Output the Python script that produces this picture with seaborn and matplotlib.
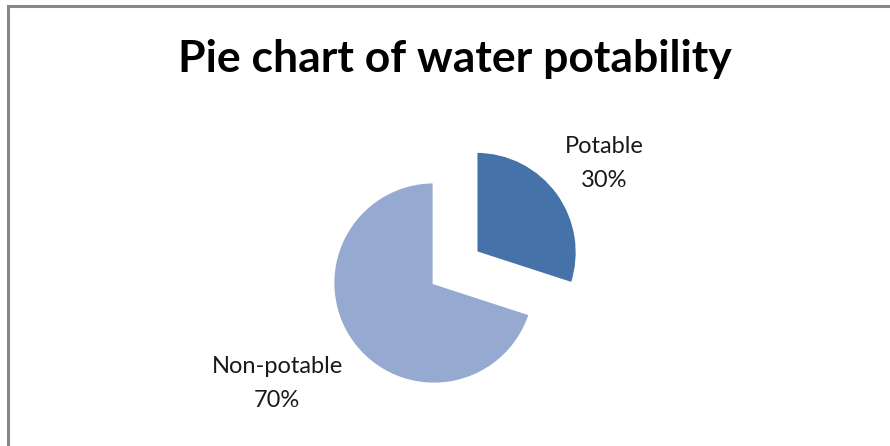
import matplotlib
matplotlib.use("Agg")
import matplotlib.pyplot as plt
import seaborn as sns
from matplotlib.patches import Rectangle

sns.set_theme(style="white")
plt.rcParams['font.family'] = ['Lato', 'DejaVu Sans']

categories = ["Potable", "Non-potable"]
values = [30, 70]
colors = ["#4572A8", "#95A9D1"]
title = "Pie chart of water potability"

W, H = 890, 446
fig = plt.figure(figsize=(W / 100, H / 100), dpi=100)
fig.patch.set_facecolor("white")
ax = fig.add_axes([0, 0, 1, 1])
ax.set_xlim(0, W)
ax.set_ylim(0, H)
ax.set_aspect("equal")
ax.axis("off")

# outer frame (extends past right/bottom edges like the reference)
ax.add_patch(Rectangle((8, -10), W + 10, H - 6 + 10, fill=False,
                       edgecolor="#878787", linewidth=2.2))

cx, cy, r = 434, H - 283, 101
wedges, _ = ax.pie(values, colors=colors, startangle=90, counterclock=False,
                   explode=[52, 0], center=(cx, cy), radius=r,
                   wedgeprops=dict(edgecolor="white", linewidth=2))
ax.set_xlim(0, W)
ax.set_ylim(0, H)

ax.text(455, H - 72, title, ha="center", va="baseline",
        fontsize=32, fontweight="bold", color="black")
ax.text(604, H - 153, categories[0], ha="center", va="baseline",
        fontsize=17, color="#1a1a1a")
ax.text(604, H - 187, f"{values[0]}%", ha="center", va="baseline",
        fontsize=17, color="#1a1a1a")
ax.text(277, H - 373, categories[1], ha="center", va="baseline",
        fontsize=17, color="#1a1a1a")
ax.text(277, H - 407, f"{values[1]}%", ha="center", va="baseline",
        fontsize=17, color="#1a1a1a")

fig.savefig("out.png", dpi=100, facecolor="white")
